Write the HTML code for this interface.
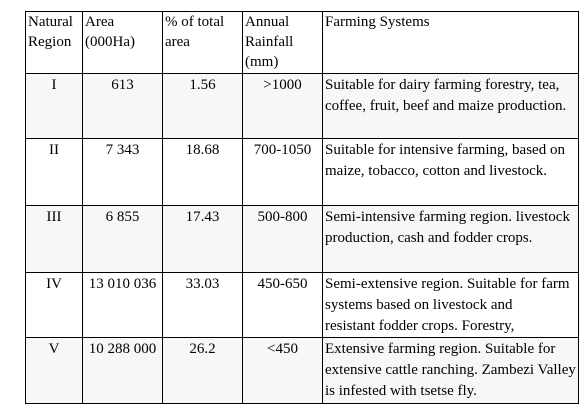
<!DOCTYPE html>
<html><head><meta charset="utf-8"><style>
body{margin:0;width:587px;height:420px;background:#fff;overflow:hidden;position:relative;font-family:"Liberation Serif","Times New Roman",serif;font-size:15px;color:#000}
table{position:absolute;left:25px;top:11px;width:553px;border-collapse:collapse;table-layout:fixed;font-family:"Liberation Serif","Times New Roman",serif;font-size:15px}
td{border:1px solid #000;vertical-align:top;padding:1px 2px 0 2px;line-height:21px;overflow:hidden;white-space:nowrap;box-sizing:border-box}
tr.h td{padding-top:0;line-height:20px;height:62px}
td.c{text-align:center}
tr.g td{background:#f7f7f7}
</style></head><body>
<table>
<colgroup><col style="width:57px"><col style="width:80px"><col style="width:80px"><col style="width:80px"><col style="width:256px"></colgroup>
<tr class="h" style="height:62px"><td>Natural<br>Region</td><td>Area<br>(000Ha)</td><td>% of total<br>area</td><td>Annual<br>Rainfall<br>(mm)</td><td>Farming Systems</td></tr>
<tr class="g" style="height:65px"><td class="c">I</td><td class="c">613</td><td class="c">1.56</td><td class="c">&gt;1000</td><td>Suitable for dairy farming forestry, tea,<br>coffee, fruit, beef and maize production.</td></tr>
<tr style="height:67px"><td class="c">II</td><td class="c">7 343</td><td class="c">18.68</td><td class="c">700-1050</td><td>Suitable for intensive farming, based on<br>maize, tobacco, cotton and livestock.</td></tr>
<tr class="g" style="height:67px"><td class="c">III</td><td class="c">6 855</td><td class="c">17.43</td><td class="c">500-800</td><td>Semi-intensive farming region. livestock<br>production, cash and fodder crops.</td></tr>
<tr style="height:65px"><td class="c">IV</td><td class="c">13 010 036</td><td class="c">33.03</td><td class="c">450-650</td><td>Semi-extensive region. Suitable for farm<br>systems based on livestock and<br>resistant fodder crops. Forestry,</td></tr>
<tr class="g" style="height:66px"><td class="c">V</td><td class="c">10 288 000</td><td class="c">26.2</td><td class="c">&lt;450</td><td>Extensive farming region. Suitable for<br>extensive cattle ranching. Zambezi Valley<br>is infested with tsetse fly.</td></tr>
</table>
</body></html>
